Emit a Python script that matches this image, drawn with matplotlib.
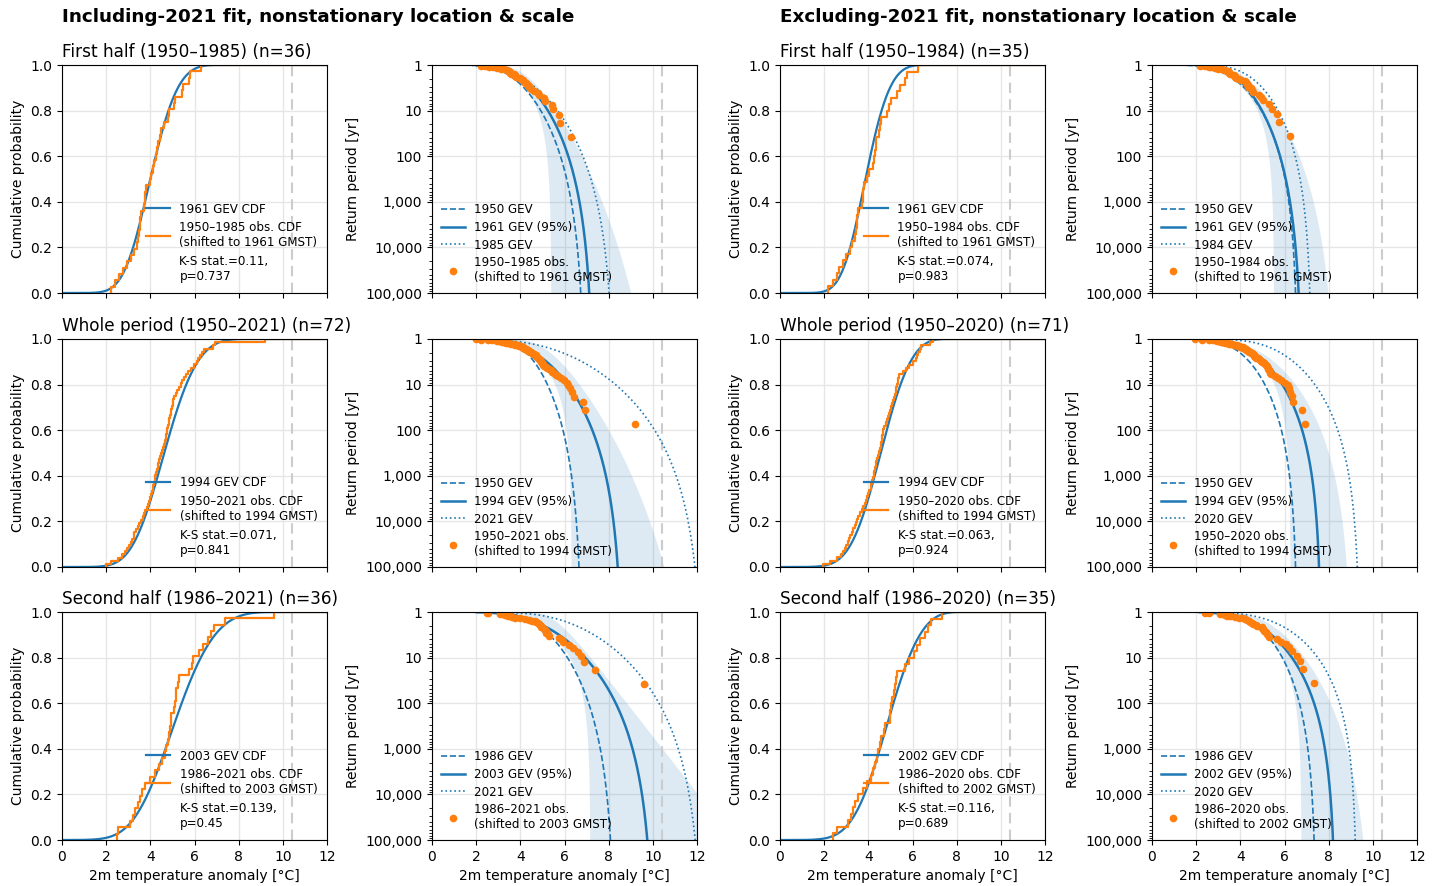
import numpy as np
import matplotlib
matplotlib.use("Agg")
import matplotlib.pyplot as plt
from matplotlib.lines import Line2D
from matplotlib.ticker import FuncFormatter, LogLocator, NullFormatter

BLUE = "#1f77b4"
ORANGE = "#ff7f0e"

# ---------------- data ----------------
obs_2021_raw = 10.4  # grey dashed line

# shifted observations (sorted)
inc_first_obs = [2.20, 2.40, 2.60, 2.75, 2.95, 3.12, 3.28, 3.38, 3.45, 3.50, 3.52, 3.55,
                 3.57, 3.72, 3.75, 3.78, 3.80, 4.00, 4.05, 4.10, 4.15, 4.25, 4.30, 4.33,
                 4.42, 4.48, 4.60, 4.80, 4.85, 5.08, 5.12, 5.43, 5.50, 5.73, 5.80, 6.29]
inc_whole_obs = [2.00, 2.20, 2.55, 2.70, 2.85, 2.95, 3.05, 3.12, 3.18, 3.24, 3.28, 3.35,
                 3.42, 3.50, 3.58, 3.65, 3.72, 3.78, 3.85, 3.90, 3.94, 3.97, 4.02, 4.06,
                 4.10, 4.13, 4.16, 4.19, 4.22, 4.26, 4.30, 4.33, 4.36, 4.38, 4.44, 4.48,
                 4.53, 4.58, 4.62, 4.66, 4.69, 4.72, 4.74, 4.76, 4.80, 4.83, 4.86, 4.90,
                 4.93, 4.95, 4.98, 5.01, 5.04, 5.06, 5.15, 5.23, 5.30, 5.38, 5.45, 5.53,
                 5.62, 5.70, 5.83, 5.98, 6.10, 6.16, 6.25, 6.33, 6.44, 6.84, 6.95, 9.17]
inc_second_obs = [2.50, 2.55, 3.10, 3.20, 3.30, 3.44, 3.55, 3.62, 3.77, 3.99, 4.20, 4.40,
                  4.53, 4.65, 4.72, 4.80, 4.85, 4.90, 4.93, 4.95, 5.05, 5.10, 5.14, 5.16,
                  5.25, 5.31, 5.76, 5.88, 5.95, 6.20, 6.40, 6.60, 6.75, 6.90, 7.40, 9.62]
exc_first_obs = [2.18, 2.38, 2.58, 2.68, 2.85, 3.00, 3.15, 3.28, 3.40, 3.45, 3.48, 3.50,
                 3.52, 3.70, 3.74, 3.77, 3.80, 3.95, 4.05, 4.20, 4.25, 4.30, 4.33, 4.35,
                 4.50, 4.55, 4.58, 4.85, 4.93, 5.04, 5.30, 5.43, 5.67, 5.74, 6.27]
exc_whole_obs = [1.95, 2.25, 2.60, 2.78, 2.85, 2.93, 3.00, 3.06, 3.12, 3.16, 3.25, 3.32,
                 3.38, 3.44, 3.50, 3.53, 3.62, 3.70, 3.77, 3.83, 3.90, 3.95, 4.00, 4.05,
                 4.10, 4.14, 4.18, 4.21, 4.24, 4.26, 4.30, 4.33, 4.36, 4.40, 4.44, 4.48,
                 4.51, 4.56, 4.59, 4.61, 4.63, 4.65, 4.66, 4.72, 4.78, 4.84, 4.89, 4.94,
                 4.99, 5.04, 5.08, 5.11, 5.14, 5.19, 5.24, 5.26, 5.30, 5.33, 5.36, 5.41,
                 5.56, 5.71, 5.86, 6.02, 6.14, 6.20, 6.24, 6.32, 6.39, 6.80, 6.92]
exc_second_obs = [2.40, 2.56, 3.08, 3.20, 3.30, 3.38, 3.53, 3.76, 3.95, 4.14, 4.22, 4.29,
                  4.38, 4.44, 4.52, 4.59, 4.70, 4.76, 4.96, 5.00, 5.04, 5.07, 5.15, 5.19,
                  5.26, 5.31, 5.65, 5.85, 6.05, 6.20, 6.35, 6.55, 6.70, 6.84, 7.34]

# GEV parameters (location, scale, shape) for each drawn curve
inc_first_ref = [3.681, 0.911, -0.25]
inc_first_early = [3.41, 0.881, -0.25]
inc_first_late = [3.72, 1.139, -0.25]
inc_first_lo = [3.48, 0.95, -0.5]
inc_first_hi = [4.18, 0.705, -0.1]

inc_whole_ref = [4.243, 1.104, -0.25]
inc_whole_early = [4.03, 0.696, -0.25]
inc_whole_late = [5.30, 1.75, -0.25]
inc_whole_lo = [4.02, 1.14, -0.5]
inc_whole_hi = [5.08, 0.793, -0.1]

inc_second_ref = [4.57, 1.372, -0.25]
inc_second_early = [4.50, 0.949, -0.25]
inc_second_late = [5.98, 1.573, -0.25]
inc_second_lo = [4.33, 1.41, -0.5]
inc_second_hi = [5.60, 0.70, 0.0]

exc_first_ref = [3.588, 0.809, -0.25]
exc_first_early = [3.363, 0.972, -0.3]
exc_first_late = [4.24, 0.90, -0.3]
exc_first_lo = [3.217, 1.145, -0.5]
exc_first_hi = [4.00, 0.882, -0.2]

exc_whole_ref = [4.198, 1.043, -0.3]
exc_whole_early = [3.68, 0.874, -0.3]
exc_whole_late = [5.40, 1.207, -0.3]
exc_whole_lo = [4.03, 1.11, -0.5]
exc_whole_hi = [4.573, 1.12, -0.25]

exc_second_ref = [4.425, 1.168, -0.3]
exc_second_early = [4.419, 0.905, -0.3]
exc_second_late = [5.393, 1.357, -0.35]
exc_second_lo = [4.05, 1.35, -0.5]
exc_second_hi = [5.11, 0.986, -0.2]

row_names = ["First half", "Whole period", "Second half"]
inc_periods = ["1950–1985", "1950–2021", "1986–2021"]
exc_periods = ["1950–1984", "1950–2020", "1986–2020"]
inc_ref_years = [1961, 1994, 2003]
exc_ref_years = [1961, 1994, 2002]
inc_early_years = [1950, 1950, 1986]
exc_early_years = [1950, 1950, 1986]
inc_late_years = [1985, 2021, 2021]
exc_late_years = [1984, 2020, 2020]
inc_ks = ["K-S stat.=0.11,\np=0.737", "K-S stat.=0.071,\np=0.841", "K-S stat.=0.139,\np=0.45"]
exc_ks = ["K-S stat.=0.074,\np=0.983", "K-S stat.=0.063,\np=0.924", "K-S stat.=0.116,\np=0.689"]

# ---------------- helpers ----------------
def gev_ppf(p, mu, sigma, xi):
    y = -np.log(p)
    if abs(xi) < 1e-9:
        return mu - sigma * np.log(y)
    return mu + sigma / xi * (y ** (-xi) - 1.0)


def gev_cdf(x, mu, sigma, xi):
    z = (x - mu) / sigma
    if abs(xi) < 1e-9:
        return np.exp(-np.exp(-z))
    t = 1.0 + xi * z
    tc = np.clip(t, 1e-12, None)
    val = np.exp(-tc ** (-1.0 / xi))
    return np.where(t > 0, val, 1.0 if xi < 0 else 0.0)


W, H = 1440, 886
fig = plt.figure(figsize=(W / 100, H / 100), dpi=100)
col_left_px = [62, 432, 780, 1152]
col_w = 265
row_top_px = [65, 339, 612]
row_h = 228
LEG_FS = 8.6


def axes_at(c, r):
    l = col_left_px[c] / W
    b = 1 - (row_top_px[r] + row_h) / H
    return fig.add_axes([l, b, col_w / W, row_h / H])


def style_common(ax, bottom):
    ax.set_xlim(0, 12)
    ax.set_xticks(np.arange(0, 13, 2))
    ax.grid(True, which="major", color="0.9", lw=1.0)
    ax.set_axisbelow(True)
    ax.tick_params(labelsize=10)
    if bottom:
        ax.set_xlabel("2m temperature anomaly [°C]", fontsize=10)
    else:
        ax.tick_params(labelbottom=False)
    ax.axvline(obs_2021_raw, color="0.8", ls=(0, (5, 3)), lw=1.5, zorder=1.5)


def draw_cdf(ax, title, obs, ref, ref_year, period, ks, bottom):
    style_common(ax, bottom)
    xg = np.linspace(0, 12, 1200)
    ax.plot(xg, gev_cdf(xg, *ref), color=BLUE, lw=1.6, label=f"{ref_year} GEV CDF")
    xs = np.sort(np.asarray(obs, dtype=float))
    n = len(xs)
    sx = np.r_[xs[0], xs, 12.0]
    sy = np.r_[0.0, np.arange(1, n + 1) / n, 1.0]
    ax.step(sx, sy, where="post", color=ORANGE, lw=1.6,
            label=f"{period} obs. CDF\n(shifted to {ref_year} GMST)")
    ax.add_line(Line2D([], [], ls="none", label=ks))
    ax.set_ylim(0, 1)
    ax.set_yticks(np.arange(0, 1.01, 0.2))
    ax.set_ylabel("Cumulative probability", fontsize=10)
    ax.set_title(title, loc="left", fontsize=12.2)
    ax.legend(loc="lower right", frameon=False, fontsize=LEG_FS, borderaxespad=0.4)


def draw_rp(ax, obs, ref, early, late, lo, hi, ref_year, early_year, late_year, period, bottom):
    style_common(ax, bottom)
    q = np.logspace(-5.2, np.log10(0.99), 900)
    T = 1.0 / q
    pr = 1.0 - q
    ax.fill_betweenx(T, gev_ppf(pr, *lo), gev_ppf(pr, *hi), color=BLUE, alpha=0.15, lw=0)
    ax.plot(gev_ppf(pr, *early), T, color=BLUE, ls="--", lw=1.2, label=f"{early_year} GEV")
    ax.plot(gev_ppf(pr, *ref), T, color=BLUE, lw=1.8, label=f"{ref_year} GEV (95%)")
    ax.plot(gev_ppf(pr, *late), T, color=BLUE, ls=":", lw=1.2, label=f"{late_year} GEV")
    xs = np.sort(np.asarray(obs, dtype=float))
    n = len(xs)
    Ti = (n + 1.0) / (n + 1.0 - np.arange(1, n + 1))
    ax.plot(xs, Ti, "o", color=ORANGE, ms=4.5, ls="none",
            label=f"{period} obs.\n(shifted to {ref_year} GMST)")
    ax.set_yscale("log")
    ax.set_ylim(1e5, 1)
    ax.set_yticks([1, 10, 100, 1000, 10000, 100000])
    ax.yaxis.set_major_formatter(FuncFormatter(lambda v, _: f"{int(round(v)):,}"))
    ax.yaxis.set_minor_locator(LogLocator(base=10, subs=np.arange(2, 10), numticks=20))
    ax.yaxis.set_minor_formatter(NullFormatter())
    ax.set_ylabel("Return period [yr]", fontsize=10)
    ax.legend(loc="lower left", frameon=False, fontsize=LEG_FS, labelspacing=0.38,
              borderaxespad=0.35)


inc_obs = [inc_first_obs, inc_whole_obs, inc_second_obs]
exc_obs = [exc_first_obs, exc_whole_obs, exc_second_obs]
inc_refs = [inc_first_ref, inc_whole_ref, inc_second_ref]
exc_refs = [exc_first_ref, exc_whole_ref, exc_second_ref]
inc_earlys = [inc_first_early, inc_whole_early, inc_second_early]
exc_earlys = [exc_first_early, exc_whole_early, exc_second_early]
inc_lates = [inc_first_late, inc_whole_late, inc_second_late]
exc_lates = [exc_first_late, exc_whole_late, exc_second_late]
inc_los = [inc_first_lo, inc_whole_lo, inc_second_lo]
exc_los = [exc_first_lo, exc_whole_lo, exc_second_lo]
inc_his = [inc_first_hi, inc_whole_hi, inc_second_hi]
exc_his = [exc_first_hi, exc_whole_hi, exc_second_hi]

sides = [
    (0, inc_obs, inc_refs, inc_earlys, inc_lates, inc_los, inc_his, inc_periods,
     inc_ref_years, inc_early_years, inc_late_years, inc_ks),
    (2, exc_obs, exc_refs, exc_earlys, exc_lates, exc_los, exc_his, exc_periods,
     exc_ref_years, exc_early_years, exc_late_years, exc_ks),
]

for (c0, obs_l, refs, earlys, lates, los, his, periods, ryears, eyears, lyears, kss) in sides:
    for r in range(3):
        bottom = r == 2
        n = len(obs_l[r])
        title = f"{row_names[r]} ({periods[r]}) (n={n})"
        ax1 = axes_at(c0, r)
        draw_cdf(ax1, title, obs_l[r], refs[r], ryears[r], periods[r], kss[r], bottom)
        ax2 = axes_at(c0 + 1, r)
        draw_rp(ax2, obs_l[r], refs[r], earlys[r], lates[r], los[r], his[r],
                ryears[r], eyears[r], lyears[r], periods[r], bottom)

fig.text(62 / W, 1 - 17 / H, "Including-2021 fit, nonstationary location & scale",
         fontsize=13.2, fontweight="bold", va="center", ha="left")
fig.text(780 / W, 1 - 17 / H, "Excluding-2021 fit, nonstationary location & scale",
         fontsize=13.2, fontweight="bold", va="center", ha="left")

fig.savefig("out.png", dpi=100, facecolor="white")
